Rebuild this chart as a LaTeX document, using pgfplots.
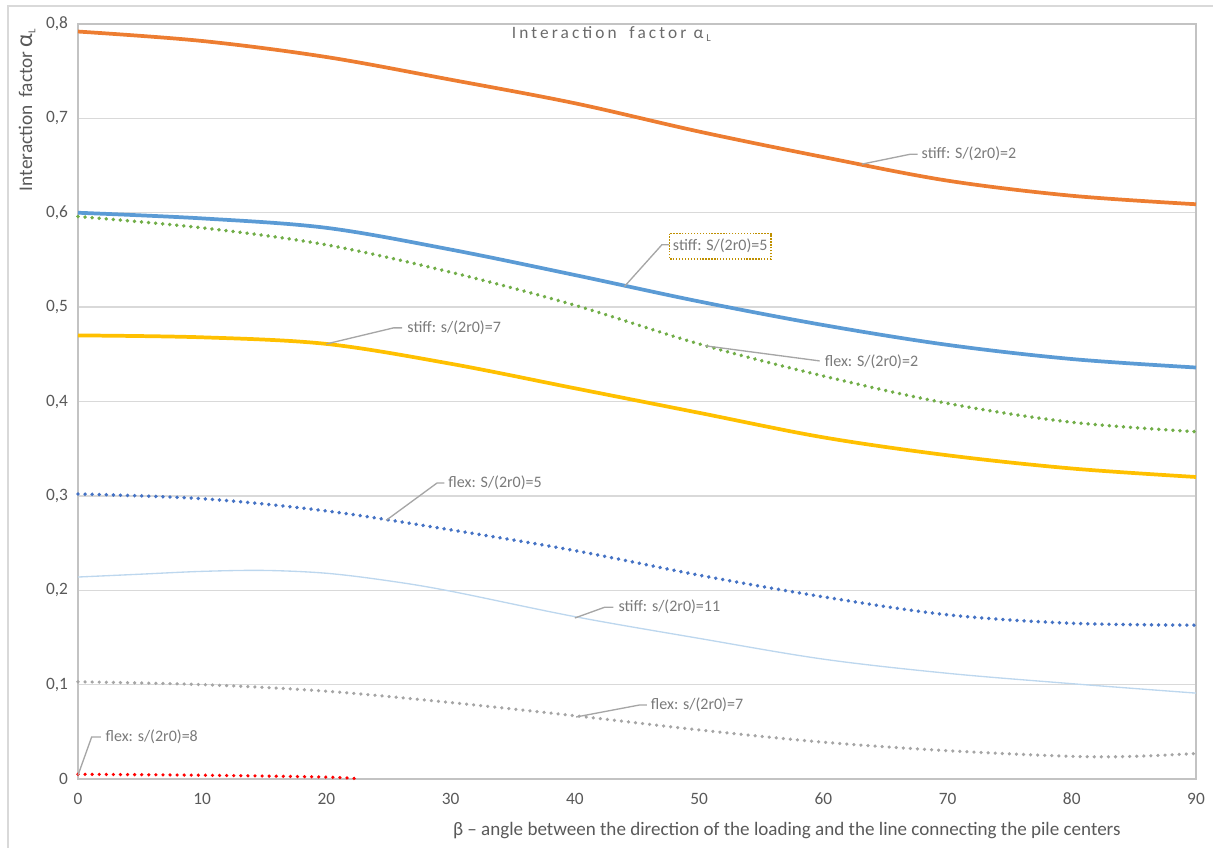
\documentclass[border=0pt]{standalone}
\usepackage{fontspec}
\setmainfont{Carlito}
\usepackage{pgfplots}
\pgfplotsset{compat=1.18}
\definecolor{txt}{HTML}{595959}
\definecolor{gridc}{HTML}{D9D9D9}
\definecolor{lead}{HTML}{A6A6A6}
\definecolor{cOrange}{HTML}{ED7D31}
\definecolor{cBlue}{HTML}{5B9BD5}
\definecolor{cGreen}{HTML}{70AD47}
\definecolor{cYellow}{HTML}{FFC000}
\definecolor{cDBlue}{HTML}{4472C4}
\definecolor{cLBlue}{HTML}{BDD7EE}
\definecolor{cGray}{HTML}{A5A5A5}
\definecolor{cRed}{HTML}{FF0000}
\definecolor{cBox}{HTML}{BF9000}
\tikzset{dotted style/.style={dash pattern=on 0.01pt off 5.3pt, line cap=round}}
\begin{document}
\begin{tikzpicture}
\useasboundingbox (-58.5pt,-51.75pt) rectangle (851.25pt,584.25pt);
\draw[gridc, line width=1.3pt] (-52.5pt,-51.75pt) -- (-52.5pt,579.75pt) -- (851.25pt,579.75pt);
\begin{axis}[
  at={(0,0)}, anchor=south west, scale only axis,
  width=838.5pt, height=566.25pt,
  xmin=0, xmax=90, ymin=0, ymax=0.8,
  xtick={0,10,20,30,40,50,60,70,80,90},
  ytick={0,0.1,0.2,0.3,0.4,0.5,0.6,0.7,0.8},
  ymajorgrids,
  grid style={gridc, line width=1.1pt},
  axis line style={gridc!90!black, line width=1.1pt},
  major tick length=0pt,
  tick label style={font=\fontsize{13}{15}\selectfont, text=txt},
  /pgf/number format/assume math mode=true,
  xticklabel style={yshift=-7pt},
  yticklabel style={xshift=-4pt, /pgf/number format/.cd, use comma, fixed, precision=1},
  clip=false,
  every axis plot/.append style={smooth, tension=0.55, no markers},
]
% stiff S/(2r0)=2
\addplot[cOrange, line width=2.8pt] coordinates {(0,0.792)(10,0.782)(20,0.765)(30,0.741)(40,0.716)(50,0.686)(60,0.659)(70,0.634)(80,0.618)(90,0.609)};
% flex S/(2r0)=2
\addplot[cGreen, line width=2.9pt, dotted style] coordinates {(0,0.596)(10,0.584)(20,0.566)(30,0.537)(40,0.502)(50,0.461)(60,0.427)(70,0.398)(80,0.378)(90,0.368)};
% stiff S/(2r0)=5
\addplot[cBlue, line width=2.8pt] coordinates {(0,0.600)(10,0.594)(20,0.584)(30,0.561)(40,0.534)(50,0.506)(60,0.481)(70,0.460)(80,0.445)(90,0.436)};
% stiff s/(2r0)=7
\addplot[cYellow, line width=2.8pt] coordinates {(0,0.470)(10,0.468)(20,0.461)(30,0.440)(40,0.414)(50,0.388)(60,0.362)(70,0.343)(80,0.329)(90,0.320)};
% flex S/(2r0)=5
\addplot[cDBlue, line width=2.9pt, dotted style] coordinates {(0,0.302)(10,0.297)(20,0.284)(30,0.264)(40,0.242)(50,0.216)(60,0.193)(70,0.174)(80,0.165)(90,0.163)};
% stiff s/(2r0)=11
\addplot[cLBlue, line width=1pt] coordinates {(0,0.214)(5,0.217)(10,0.220)(15,0.221)(20,0.218)(25,0.210)(30,0.199)(40,0.172)(50,0.149)(60,0.127)(70,0.112)(80,0.101)(90,0.091)};
% flex s/(2r0)=7
\addplot[cGray, line width=2.7pt, dotted style] coordinates {(0,0.103)(10,0.100)(20,0.093)(30,0.081)(40,0.067)(50,0.052)(60,0.039)(70,0.030)(80,0.024)(85,0.024)(90,0.027)};
% flex s/(2r0)=8
\addplot[cRed, line width=2.7pt, dotted style] coordinates {(0,0.005)(10,0.004)(20,0.002)(22.7,0.0)};

% annotations
\begin{scope}[lead, line width=1pt]
\draw (axis cs:63.1,0.6515) -- (axis cs:67.0,0.662) -- (axis cs:67.6,0.662);
\draw (axis cs:44.0,0.522) -- (axis cs:47.0,0.566) -- (axis cs:47.6,0.566);
\draw (axis cs:50.5,0.459) -- (axis cs:59.7,0.443);
\draw (axis cs:20.0,0.461) -- (axis cs:25.4,0.478) -- (axis cs:26.1,0.478);
\draw (axis cs:24.8,0.274) -- (axis cs:28.9,0.3136) -- (axis cs:29.5,0.3136);
\draw (axis cs:40.0,0.1706) -- (axis cs:42.4,0.182) -- (axis cs:43.1,0.182);
\draw (axis cs:40.1,0.0657) -- (axis cs:45.2,0.0784) -- (axis cs:45.8,0.0784);
\draw (axis cs:0,0.004) -- (axis cs:1.1,0.0445) -- (axis cs:1.85,0.0445);
\end{scope}
\begin{scope}[every node/.style={font=\fontsize{12}{14}\selectfont, text=txt!80, inner sep=0pt}]
\node[anchor=west] at (axis cs:67.9,0.662) {stiff: S/(2r0)=2};
\draw[cBox, line width=1pt, dash pattern=on 1pt off 1.2pt] (axis cs:47.6,0.578) rectangle (axis cs:55.8,0.551);
\node at (axis cs:51.7,0.565) {stiff: S/(2r0)=5};
\node[anchor=west] at (axis cs:60.1,0.442) {flex: S/(2r0)=2};
\node[anchor=west] at (axis cs:26.5,0.478) {stiff: s/(2r0)=7};
\node[anchor=west] at (axis cs:29.8,0.3136) {flex: S/(2r0)=5};
\node[anchor=west] at (axis cs:43.5,0.182) {stiff: s/(2r0)=11};
\node[anchor=west] at (axis cs:46.1,0.0784) {flex: s/(2r0)=7};
\node[anchor=west] at (axis cs:2.2,0.0445) {flex: s/(2r0)=8};
\end{scope}
\node[text=txt!90, font=\fontsize{13}{15}\selectfont\addfontfeature{LetterSpace=18}] at (rel axis cs:0.477,0.987) {Interaction\,\, factor α\,{\fontsize{8}{8}\selectfont\raisebox{-2.5pt}{L}}};
\node[text=txt, rotate=90, font=\fontsize{14.5}{16}\selectfont] at ([xshift=-38.25pt]rel axis cs:0,0.886) {Interaction\, factor {\fontsize{18}{18}\selectfont α}{\fontsize{8}{8}\selectfont\raisebox{-2.5pt}{L}}};
\node[text=txt, font=\fontsize{14.3}{16}\selectfont] at ([yshift=-39pt]rel axis cs:0.634,0) {β – angle between the direction of the loading and the line connecting the pile centers};
\end{axis}
\end{tikzpicture}
\end{document}
